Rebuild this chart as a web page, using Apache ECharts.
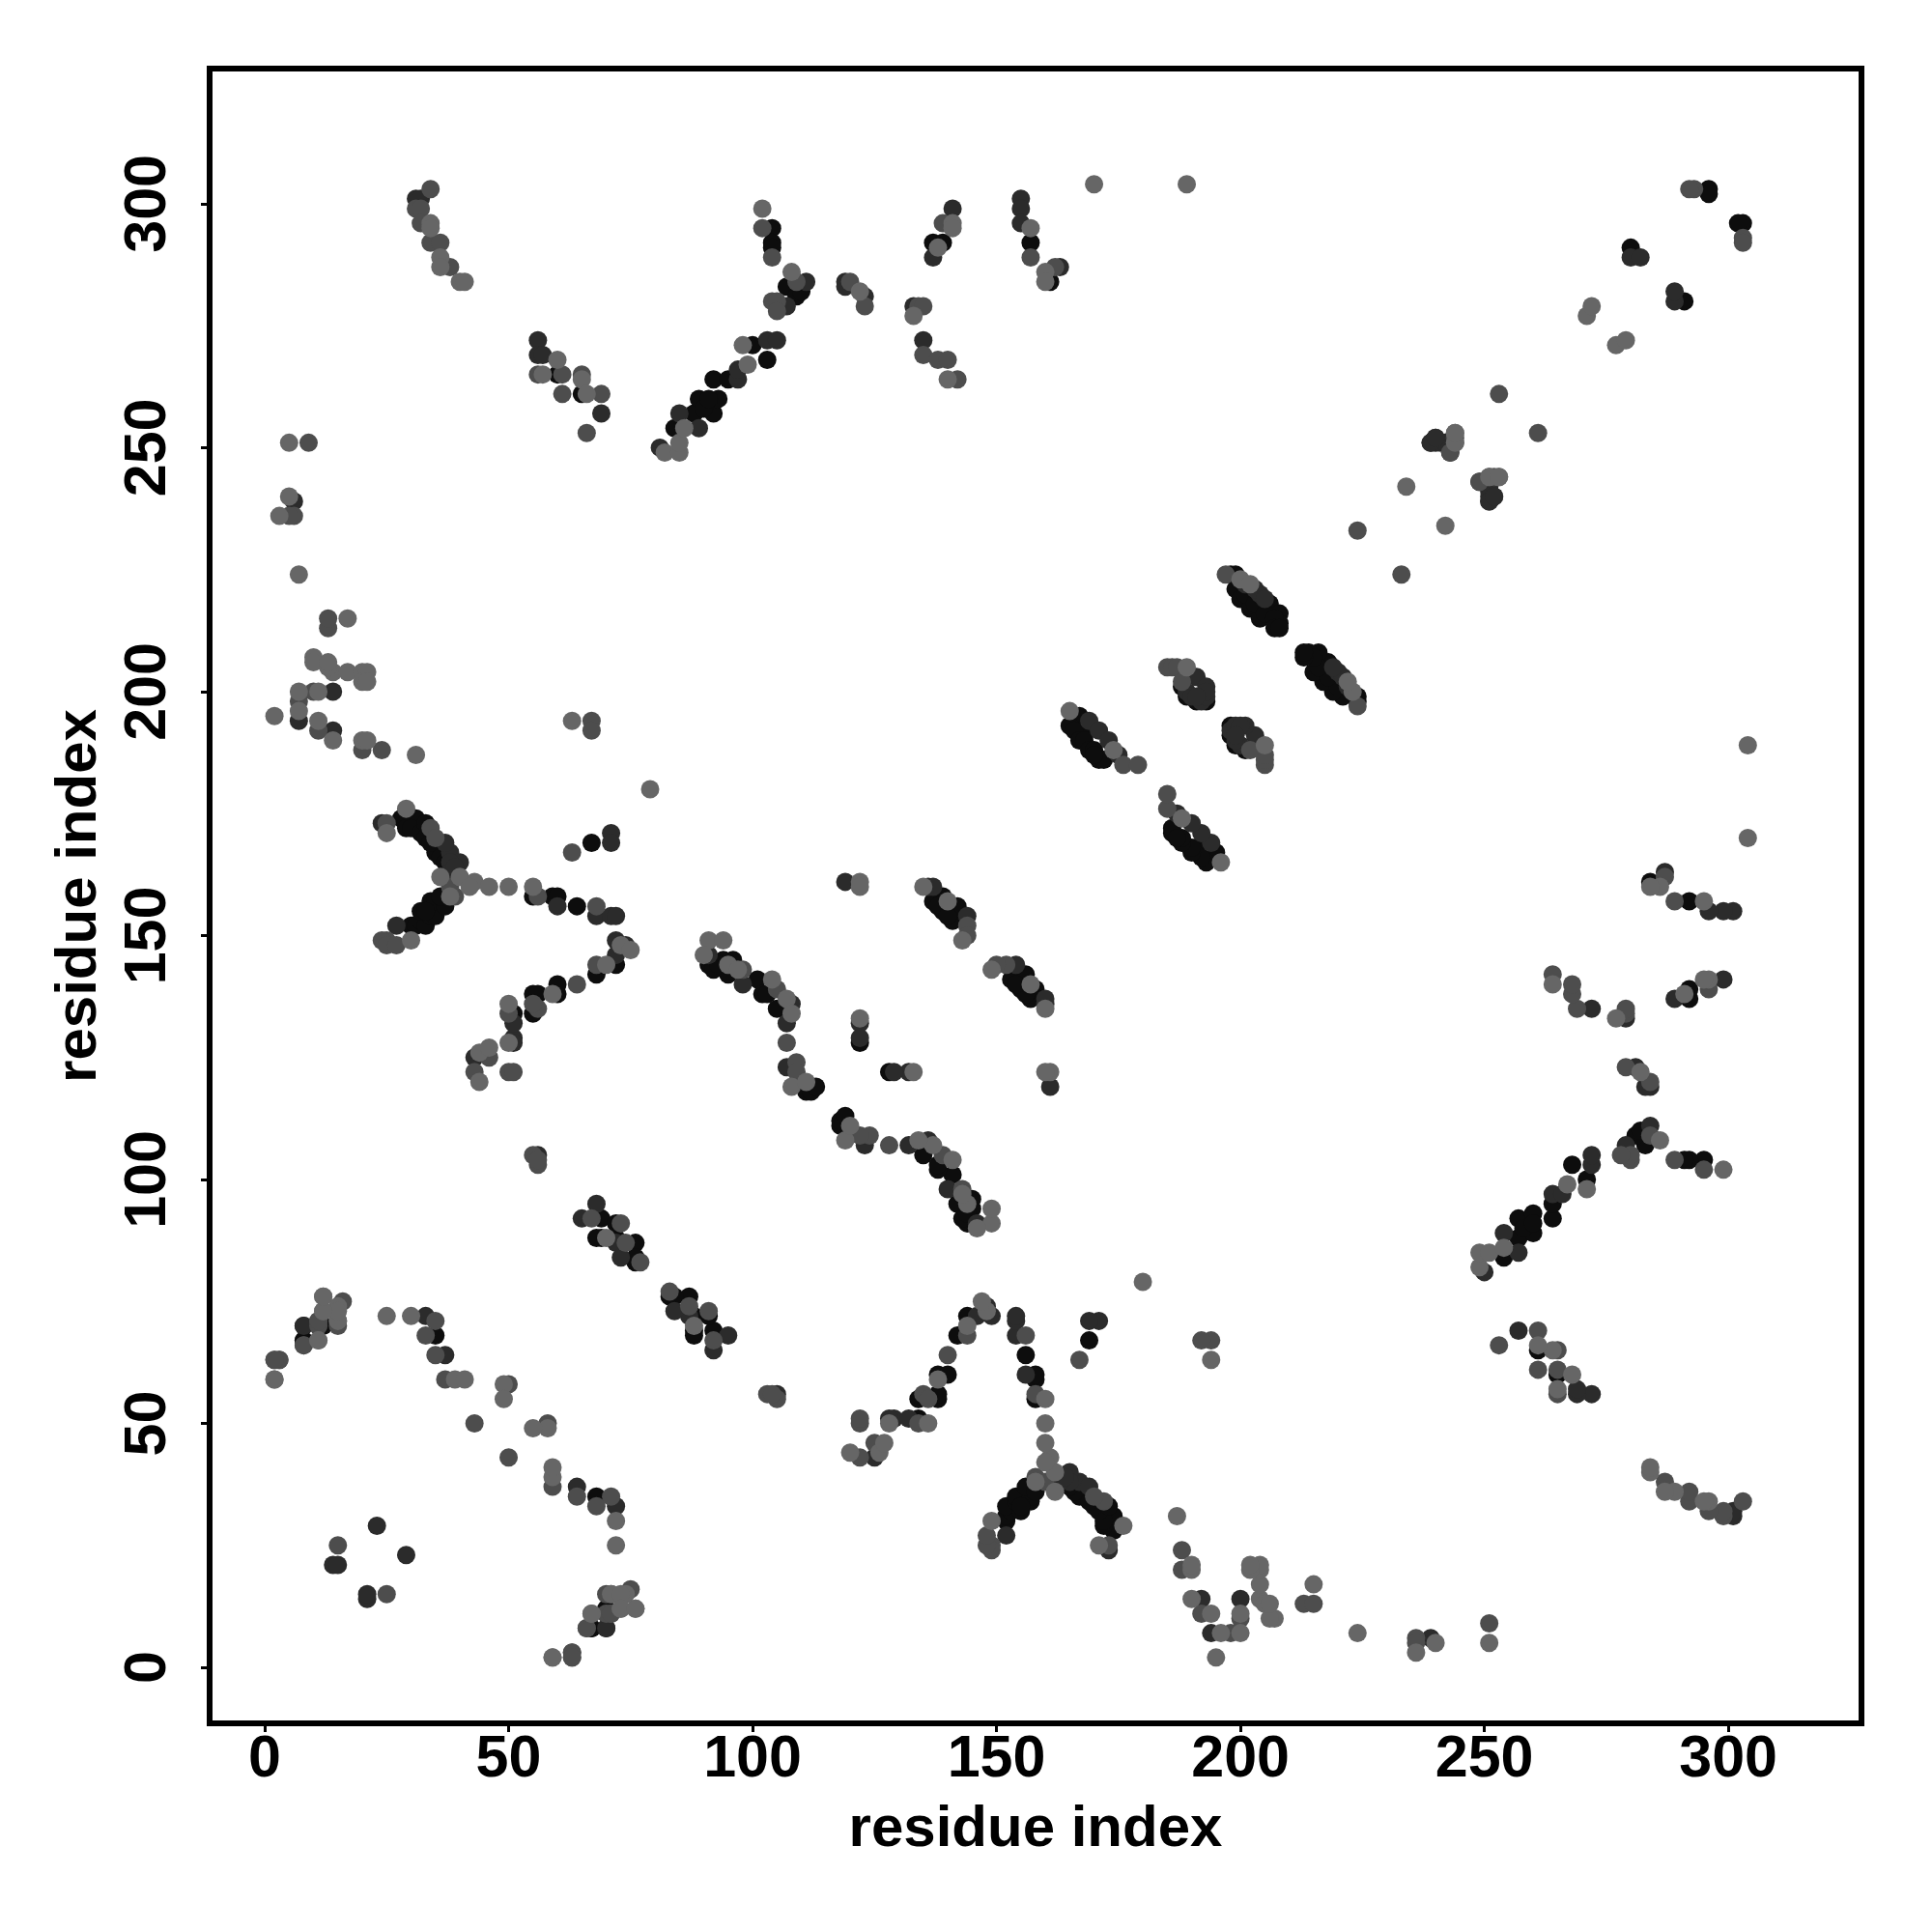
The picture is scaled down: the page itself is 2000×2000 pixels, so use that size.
<!DOCTYPE html>
<html><head><meta charset="utf-8">
<script src="https://cdn.jsdelivr.net/npm/echarts@6/dist/echarts.min.js"></script>
<style>html,body{margin:0;padding:0;background:#fff}#c{width:2000px;height:2000px}</style>
</head><body><div id="c"></div>
<script>
const tickValues=[0,50,100,150,200,250,300];
const axisTitle='residue index';
const contactsBlack=[[67,8],[8,70],[8,67],[12,70],[35,68],[69,92],[72,91],[69,88],[73,87],[76,87],[76,83],[76,84],[68,88],[72,88],
[28,174],[31,174],[29,172],[30,172],[32,171],[33,170],[35,167],[33,173],[34,169],[36,166],[37,165],[30,152],[31,152],[32,153],[33,152],[32,155],[34,157],[34,154],[35,154],[35,157],[37,156],[36,158],[33,155],
[55,158],[59,158],[60,158],[64,156],[67,169],[51,134],[55,134],[55,138],[56,138],[60,138],[60,140],[68,142],[72,144],
[91,144],[94,145],[95,142],[96,145],[101,141],[102,138],[103,138],[105,135],[92,143],[93,144],[111,118],[112,118],[113,119],[122,128],
[137,157],[139,158],[139,155],[141,153],[142,156],[138,156],[140,154],
[167,195],[165,193],[168,191],[166,192],[167,190],[168,190],[169,188],[170,188],[171,186],[172,186],[170,187],
[193,198],[188,201],[189,199],[191,198],
[198,224],[199,224],[199,221],[200,219],[206,218],[202,217],[208,216],[204,215],[208,214],[201,220],[203,218],[205,216],[207,215],[207,213],[208,213],
[84,254],[88,257],[89,260],[92,257],[93,260],[92,264],[95,264],[100,271],[103,268],[90,258],[91,260],
[104,295],[104,292],[104,291],[107,283],[109,281],[110,282],[137,292],[139,292],[157,292],[161,284],[60,265],[65,261],
[280,291],[296,303],[296,302],[251,242]];
const contactsDark=[[70,8],[11,70],[33,72],[37,64],[23,29],[14,21],[15,21],[68,95],[65,92],[72,87],[73,84],[7,194],[14,200],[14,192],
[24,173],[38,167],[37,169],[40,165],[38,165],[38,163],[39,164],[27,152],[60,156],[68,154],[71,154],[72,154],[71,171],[71,169],
[43,125],[51,129],[51,128],[51,132],[72,146],[72,149],[74,148],[91,146],[98,140],[107,132],[108,136],[107,123],[119,161],[122,132],[122,129],
[136,160],[137,160],[144,154],[169,194],[171,192],[173,190],[175,187],[191,203],[189,200],[193,201],[190,199],[192,198],[193,199],[193,200],[191,199],[204,220],[201,222],[203,221],[205,219],
[6,239],[31,301],[32,301],[56,272],[56,269],[57,269],[69,257],[81,250],[85,257],[89,254],[97,264],[97,266],
[103,272],[105,272],[111,284],[107,279],[119,284],[119,283],[123,281],[133,279],[135,272],[141,299],[137,289],[155,301],[155,299],[155,296],[163,287],
[280,289],[282,289],[239,251],[240,251],[241,251],[240,252],[243,249],[242,251],[251,239],[252,240],[56,105]];
const contactsMid=[[2,63],[3,63],[8,66],[11,71],[16,75],[70,15],[71,15],[70,11],[71,11],[66,8],[63,3],[63,2],[35,71],[35,64],[37,59],[50,58],[43,50],[33,68],[15,25],[67,92],[73,91],[74,87],[77,83],
[7,198],[10,200],[11,192],[20,188],[24,188],[13,213],[13,215],[9,251],[67,194],[67,192],[63,167],[25,173],[34,172],[35,170],[25,149],[24,149],[25,148],[27,148],[39,158],[38,160],[56,158],[68,156],
[43,122],[46,125],[50,122],[51,122],[50,134],[56,135],[55,136],[64,140],[68,144],[98,143],[105,139],[107,128],[109,124],[109,122],[144,152],[144,150],[176,185],[179,185],[185,205],[186,205],[187,205],[188,202],[197,224],
[6,236],[5,236],[31,299],[32,299],[32,296],[34,292],[36,292],[38,287],[61,265],[56,265],[61,261],[65,265],[69,261],[66,253],[34,303],
[102,295],[104,289],[109,284],[104,280],[105,280],[105,278],[120,284],[123,279],[134,279],[135,279],[135,269],[138,268],[140,268],[142,264],[139,296],[157,289],[162,287],
[224,233],[253,261],[293,303],[292,303],[244,251],[249,243],[252,244],[55,105],[56,103],[56,104]];
const contactsLight=[[2,59],[12,76],[12,73],[15,74],[15,71],[15,73],[11,67],[25,72],[30,72],[39,59],[41,59],[49,58],[49,55],[59,2],[73,12],[76,12],[67,11],[70,88],
[2,195],[7,200],[7,196],[10,207],[10,206],[14,204],[17,204],[20,204],[21,204],[20,202],[21,202],[13,205],[13,206],[11,200],[11,194],[14,190],[20,190],[21,190],[31,187],[17,215],[63,194],[79,180],[25,171],[29,176],[40,162],[43,161],[42,160],[46,160],[50,160],[55,160],[30,149],[36,162],[38,158],
[44,120],[44,126],[46,127],[50,128],[50,136],[59,138],[70,144],[73,148],[75,147],[91,149],[94,149],[90,146],[95,144],[97,143],[104,141],[107,137],[108,134],[108,119],[111,120],[122,161],[122,160],[122,133],[135,160],[140,157],[143,149],[165,196],[174,188],[189,205],[200,223],[202,222],
[5,251],[5,240],[3,236],[7,224],[34,296],[34,295],[36,289],[36,287],[40,284],[41,284],[60,268],[57,265],[65,264],[66,261],[82,249],[85,249],[85,251],[86,254],[99,267],[98,271],[102,299],[108,286],[122,282],[133,277],[140,264],[141,296],[141,295],[138,291],[157,295],[160,286],[160,284],[170,304],[189,304],[234,242],[271,277],[272,279],[244,253],[251,244],[253,244]];
function mirrored(list){const out=[];list.forEach(p=>{out.push([p[0],p[1]]);out.push([p[1],p[0]]);});return out;}
const chart=echarts.init(document.getElementById('c'),null,{renderer:'canvas'});
const font='"Liberation Sans"';
function axis(nameGap,margin){return {type:'value',min:-11.29,max:327.3,name:axisTitle,nameLocation:'middle',nameGap:nameGap,nameMoveOverlap:false,
 nameTextStyle:{fontFamily:font,fontWeight:'bold',fontSize:60,color:'#000'},
 axisLine:{show:false,onZero:false},splitLine:{show:false},
 axisTick:{show:true,inside:false,length:9,lineStyle:{color:'#000',width:3},customValues:tickValues},
 axisLabel:{show:true,margin:margin,fontFamily:font,fontWeight:'bold',fontSize:61,color:'#000',customValues:tickValues}};}
function series(data,color){return {type:'scatter',data:mirrored(data),symbol:'circle',symbolSize:19,itemStyle:{color:color,opacity:1},emphasis:{disabled:true},animation:false};}
const xa=axis(80,8);
const ya=axis(105,32);ya.min=-11.49;ya.max=327.7;ya.axisLabel.rotate=90;
chart.setOption({animation:false,backgroundColor:'#fff',
 grid:{show:true,left:217,right:73,top:71,bottom:216,borderColor:'#000',borderWidth:6,backgroundColor:'#fff',containLabel:false},
 xAxis:xa,yAxis:ya,
 series:[series(contactsBlack,'#0d0d0d'),series(contactsDark,'#2b2b2b'),series(contactsMid,'#4d4d4d'),series(contactsLight,'#666666')]});
</script></body></html>
